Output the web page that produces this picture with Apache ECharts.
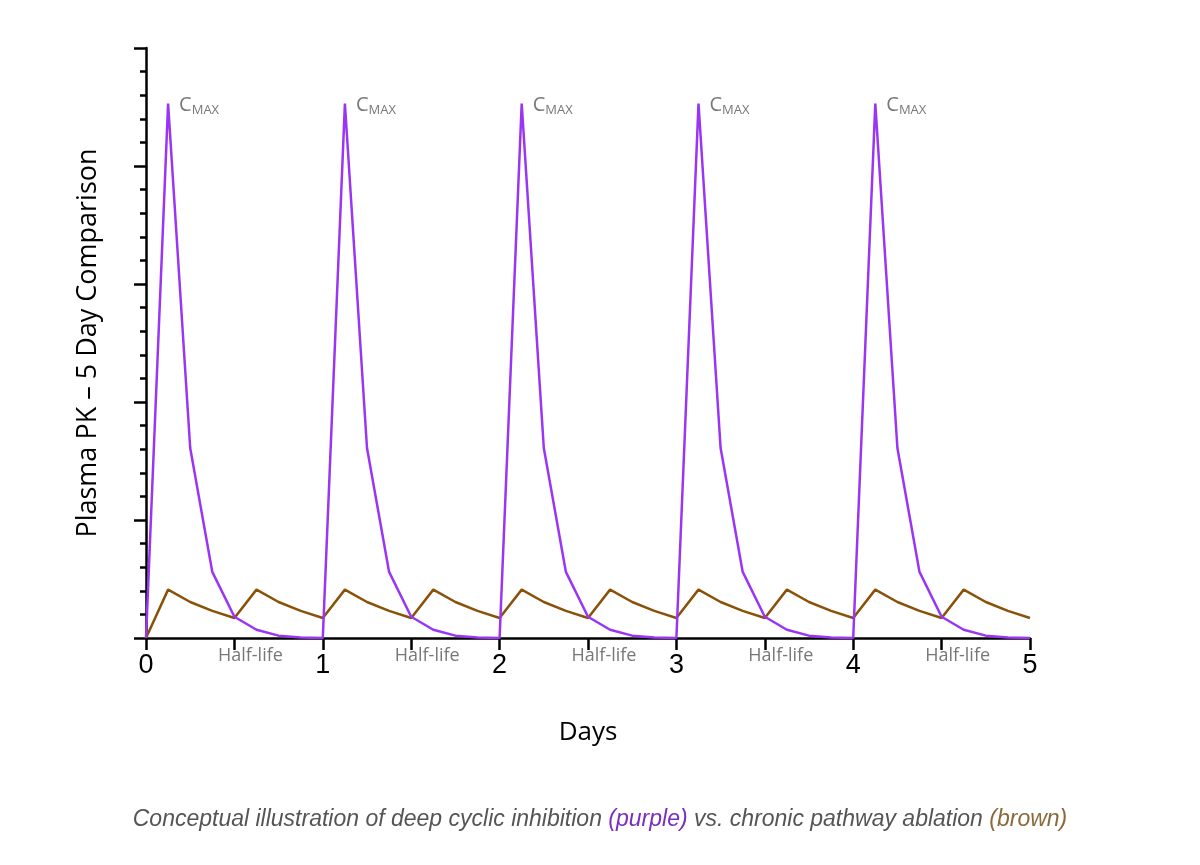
<!DOCTYPE html>
<html><head><meta charset="utf-8">
<script src="https://cdn.jsdelivr.net/npm/echarts@6/dist/echarts.min.js"></script>
<style>html,body{margin:0;padding:0;background:#fff}#c{width:1200px;height:865px}</style>
</head><body><div id="c"></div>
<script>
const step = 0.125;
const purple = [0,45.3,16.1,5.6,1.8,0.7,0.2,0.05,
                0,45.3,16.1,5.6,1.8,0.7,0.2,0.05,
                0,45.3,16.1,5.6,1.8,0.7,0.2,0.05,
                0,45.3,16.1,5.6,1.8,0.7,0.2,0.05,
                0,45.3,16.1,5.6,1.8,0.7,0.2,0.05,0];
const brown = [0,4.1,3.05,2.3,1.7,4.1,3.05,2.3,1.7,
               4.1,3.05,2.3,1.7,4.1,3.05,2.3,1.7,
               4.1,3.05,2.3,1.7,4.1,3.05,2.3,1.7,
               4.1,3.05,2.3,1.7,4.1,3.05,2.3,1.7,
               4.1,3.05,2.3,1.7,4.1,3.05,2.3,1.7];
const cmaxDays = [0.125,1.125,2.125,3.125,4.125];
const halfLifeDays = [0.5,1.5,2.5,3.5,4.5];
const xTicks = [0,1,2,3,4,5];

const P='#9a35f5', B='#8a5209';
const chart = echarts.init(document.getElementById('c'));
const cap = {fontFamily:'Liberation Sans',fontStyle:'italic',fontWeight:'normal',fontSize:23};
chart.setOption({
  animation:false,
  title:{
    text:'{g|Conceptual illustration of deep cyclic inhibition }{p|(purple)}{g| vs. chronic pathway ablation }{b|(brown)}',
    left:'center', top:803,
    textStyle:{fontWeight:'normal',rich:{
      g:Object.assign({color:'#555'},cap),
      p:Object.assign({color:'#7a2fc0'},cap),
      b:Object.assign({color:'#8a6a3a'},cap)
    }}
  },
  grid:{left:146,right:170,top:48,bottom:227},
  xAxis:{type:'value',min:0,max:5,interval:0.5,
    name:'Days',nameLocation:'middle',nameGap:82,
    nameTextStyle:{fontFamily:'Open Sans',fontSize:26,color:'#000'},
    axisLine:{lineStyle:{color:'#000',width:2.5}},
    axisTick:{length:12,lineStyle:{color:'#000',width:2.5}},
    axisLabel:{fontFamily:'Liberation Sans',fontSize:27,color:'#000',margin:14,
      formatter:v=>xTicks.includes(v)?String(v):''},
    splitLine:{show:false}},
  yAxis:{type:'value',min:0,max:50,interval:10,
    name:'Plasma PK – 5 Day Comparison',nameLocation:'middle',nameGap:44,
    nameTextStyle:{fontFamily:'Open Sans',fontSize:27,color:'#000'},
    axisLine:{show:true,lineStyle:{color:'#000',width:2.5}},
    axisTick:{show:true,length:12,lineStyle:{color:'#000',width:2.5}},
    minorTick:{show:true,splitNumber:5,length:6,lineStyle:{color:'#000',width:2.5}},
    axisLabel:{show:false},splitLine:{show:false}},
  series:[
    {type:'line',data:brown.map((v,i)=>[i*step,v]),showSymbol:false,
     lineStyle:{color:B,width:2.5},z:2},
    {type:'line',data:purple.map((v,i)=>[i*step,v]),showSymbol:false,
     lineStyle:{color:P,width:2.5},z:3},
    {type:'scatter',symbolSize:0,silent:true,
     data:cmaxDays.map((d,i)=>[d,purple[i*8+1]]),
     label:{show:true,position:'right',offset:[6,2],
       formatter:'{c|C}{m|MAX}',
       rich:{c:{fontFamily:'Open Sans',fontSize:20,color:'#555'},
             m:{fontFamily:'Open Sans',fontSize:13,color:'#555',padding:[9,0,0,0]}}}},
    {type:'scatter',symbolSize:0,silent:true,
     data:halfLifeDays.map(d=>[d,0]),
     label:{show:true,position:'bottom',offset:[16,4],formatter:'Half-life',
       fontFamily:'Open Sans',fontSize:18,color:'#555'}}
  ]
});
</script></body></html>
